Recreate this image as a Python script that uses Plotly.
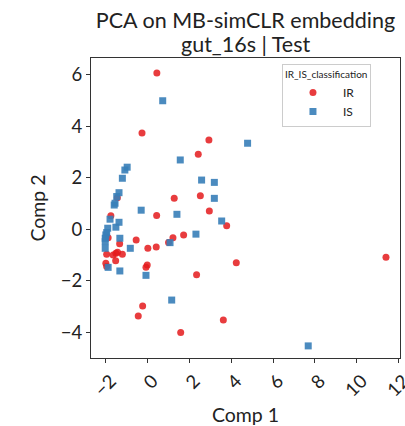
import plotly.graph_objects as go

ir_x = [0.44, -0.27, 2.93, 2.42, 2.52, 1.27, -1.45, -1.76, 0.43, 2.95, 3.78, -1.89, -1.34, -0.55,
        0.01, 0.41, 1.00, 1.21, 1.72, -1.96, -1.65, -1.52, -1.44, -1.21, -1.53, -2.00, -1.96,
        -0.02, -0.08, 2.34, 4.24, 11.40, 3.62, -0.24, -0.45, 1.58]
ir_y = [6.07, 3.74, 3.47, 2.91, 1.30, 1.20, 1.22, 0.52, 0.53, 0.71, 0.14, -0.33, -0.56, -0.42,
        -0.74, -0.69, -0.51, -0.33, -0.22, -0.97, -1.00, -0.93, -0.89, -0.97, -1.22, -1.32, -1.45,
        -1.39, -1.48, -1.77, -1.30, -1.09, -3.52, -2.98, -3.37, -4.01]

is_x = [0.72, 1.56, 4.78, -0.98, -1.09, -1.21, 2.58, 3.19, 3.19, -1.37, -1.48, -1.56, -1.60,
        -1.80, -0.31, 1.40, 3.54, -1.37, -1.52, -1.91, -1.96, -2.00, -2.03, -2.03, -2.03,
        -1.33, -0.83, 1.07, 2.31, -1.89, -1.33, -0.08, 1.15, 7.68]
is_y = [4.99, 2.69, 3.34, 2.41, 2.30, 1.98, 1.91, 1.82, 1.20, 1.42, 1.27, 1.01, 0.94,
        0.39, 0.74, 0.58, 0.32, 0.27, 0.08, 0.04, -0.13, -0.22, -0.35, -0.48, -0.74,
        -0.35, -0.74, -0.52, -0.19, -1.48, -1.62, -1.79, -2.75, -4.53]

x_ticks = [-2, 0, 2, 4, 6, 8, 10, 12]
y_ticks = [-4, -2, 0, 2, 4, 6]

title_line1 = "PCA on MB-simCLR embedding"
title_line2 = "gut_16s | Test"


def lab(v):
    return str(v).replace("-", "\u2212")


FONT = "Lato"

fig = go.Figure()
fig.add_trace(go.Scatter(x=ir_x, y=ir_y, mode="markers", name="IR",
                         marker=dict(color="#e41a1c", symbol="circle", size=7, opacity=0.85,
                                     line=dict(width=0))))
fig.add_trace(go.Scatter(x=is_x, y=is_y, mode="markers", name="IS",
                         marker=dict(color="#377eb8", symbol="square", size=7, opacity=0.9,
                                     line=dict(width=0))))

axis_common = dict(showgrid=False, zeroline=False, showline=True, mirror=True,
                   linecolor="#333333", linewidth=1, ticks="outside", ticklen=4,
                   tickcolor="#333333", tickfont=dict(size=18.5, family=FONT, color="#222"),
                   ticklabeloverflow="allow", automargin=False)

fig.update_layout(
    width=405, height=426,
    margin=dict(l=91, r=5, t=58, b=68),
    paper_bgcolor="white", plot_bgcolor="white",
    font=dict(family=FONT, color="#222"),
    title=dict(text=title_line1, x=0.5, xref="paper",
               xanchor="center", yref="container", y=1 - 20 / 426, yanchor="middle",
               automargin=False,
               font=dict(size=21.5, family=FONT, color="#222")),
    xaxis=dict(range=[-2.71, 12.07], tickvals=x_ticks, ticktext=[lab(v) for v in x_ticks],
               tickangle=-45, ticklabelshift=5,
               title=dict(text="Comp 1", font=dict(size=19.5, family=FONT), standoff=8),
               **axis_common),
    yaxis=dict(range=[-5.0, 6.65], tickvals=y_ticks, ticktext=[lab(v) for v in y_ticks],
               title=dict(text="Comp 2", font=dict(size=19.5, family=FONT), standoff=10),
               **axis_common),
    legend=dict(title=dict(text="IR_IS_classification", font=dict(size=10, family=FONT)),
                x=0.618, xanchor="left", y=0.98, yanchor="top",
                bordercolor="#cccccc", borderwidth=1, bgcolor="rgba(255,255,255,0.8)",
                font=dict(size=12, family=FONT), itemwidth=50),
)
fig.add_annotation(text=title_line2, xref="paper", yref="paper", x=0.5, y=1 + 14 / 300,
                   xanchor="center", yanchor="middle", showarrow=False,
                   font=dict(size=21.5, family=FONT, color="#222"))

fig.write_html("out.html")
